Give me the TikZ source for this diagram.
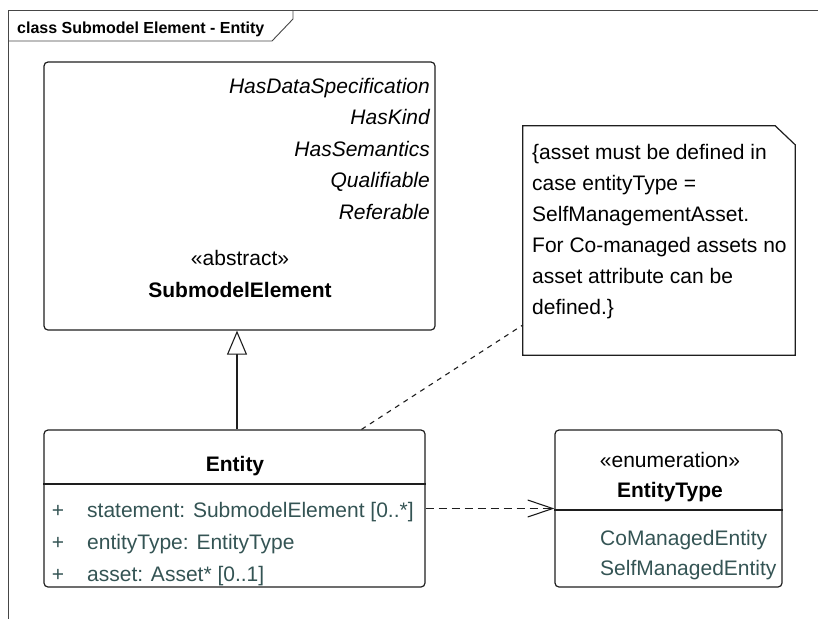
\documentclass[tikz,border=0pt]{standalone}
\usepackage{fontspec}
\setmainfont{Liberation Sans}
\usetikzlibrary{arrows.meta,positioning}
\definecolor{umlLine}{RGB}{30,30,30}
\definecolor{umlAttr}{RGB}{52,84,84}
\definecolor{umlFrame}{RGB}{70,70,70}

\begin{document}
\begin{tikzpicture}[x=1pt, y=-1pt,
  classbox/.style={draw=umlLine, line width=1.2pt, rounded corners=4pt, inner sep=0pt},
  txt/.style={font=\fontsize{21}{31.5}\selectfont, inner sep=0pt},
  attr/.style={txt, text=umlAttr},
  divider/.style={draw=umlLine, line width=1.2pt},
  framel/.style={draw=umlFrame, line width=0.9pt},
  gen/.style={-{Triangle[open, length=24pt, width=20pt, fill=white]}, draw=umlLine, line width=1.1pt},
  dep/.style={-{Straight Barb[length=25pt, width=17pt]}, draw=umlLine, line width=1.1pt, dash pattern=on 8pt off 5pt},
  notelink/.style={draw=umlLine, line width=1.1pt, dash pattern=on 5pt off 5pt}
]
\useasboundingbox (0,0) rectangle (818,619);

% frame
\node[font=\fontsize{16}{18}\selectfont\bfseries, inner sep=0pt, anchor=base west] (frameTitle) at (17,33) {class Submodel Element - Entity};
\draw[framel] (818,10) -- (8,10) -- (8,619);
\draw[framel] (8,41) -- (272,41) -- (293,19) -- (293,10);

% classes
\node[classbox, minimum width=391pt, minimum height=268pt] (subEl) at (239.5,196) {};
\node[classbox, minimum width=381pt, minimum height=157pt] (entity) at (234.5,508.5) {};
\node[classbox, minimum width=227pt, minimum height=157pt] (enumT) at (668.5,508.5) {};
\node[minimum width=272pt, minimum height=229pt, inner sep=0pt] (note) at (659,240.5) {};
\draw[draw=umlLine, line width=1.2pt] (note.south west) -- (note.north west) -- ([xshift=-20pt]note.north east)
  -- ([yshift=-19pt]note.north east) -- (note.south east) -- cycle;

\draw[divider] (entity.west |- 0,484) -- (entity.east |- 0,484);
\draw[divider] (enumT.west |- 0,510) -- (enumT.east |- 0,510);

% texts (base = last line)
\node[txt, font=\fontsize{21}{31.5}\selectfont\itshape, align=right, anchor=base east] (parents) at (430,219)
  {HasDataSpecification\\HasKind\\HasSemantics\\Qualifiable\\Referable};
\node[txt, align=center, anchor=base] (subElName) at (240,297) {«abstract»\\\textbf{SubmodelElement}};
\node[txt, font=\fontsize{21}{31.5}\selectfont\bfseries, anchor=base] (entityName) at (235,471) {Entity};
\node[attr, font=\fontsize{21}{32}\selectfont, align=center, anchor=base] (plus) at (58,581) {+\\+\\+};
\node[attr, font=\fontsize{21}{32}\selectfont, align=left, anchor=base west] (attrs) at (87,581)
  {statement: SubmodelElement [0..*]\\entityType: EntityType\\asset: Asset* [0..1]};
\node[txt, font=\fontsize{21}{30}\selectfont, align=center, anchor=base] (enumName) at (670,497) {«enumeration»\\\textbf{EntityType}};
\node[attr, font=\fontsize{21}{30}\selectfont, align=left, anchor=base west] (literals) at (600,575)
  {CoManagedEntity\\SelfManagedEntity};
\node[txt, font=\fontsize{21}{31}\selectfont, align=left, anchor=base west] (noteText) at (532,314)
  {\{asset must be defined in\\case entityType =\\SelfManagementAsset.\\For Co-managed assets no\\asset attribute can be\\defined.\}};

% connectors
\draw[gen] ([xshift=2.5pt]entity.north) -- ([xshift=2.5pt]entity.north |- subEl.south);
\draw[dep] (entity.east) -- (enumT.west);
\draw[notelink] ([xshift=127pt]entity.north) -- ([yshift=-84.5pt]note.west);
\end{tikzpicture}
\end{document}
